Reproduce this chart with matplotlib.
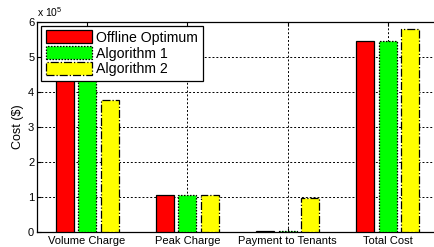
import numpy as np
import matplotlib
matplotlib.use("Agg")
import matplotlib.pyplot as plt
from matplotlib.patches import Patch

plt.rcParams['font.family'] = ['Liberation Sans', 'DejaVu Sans']
plt.rcParams['mathtext.fontset'] = 'custom'
plt.rcParams['mathtext.rm'] = 'Liberation Sans'

# data (cost in $)
categories = ["Volume Charge", "Peak Charge", "Payment to Tenants", "Total Cost"]
offline_opt = [4.36e5, 1.05e5, 0.04e5, 5.45e5]
algorithm_1 = [4.37e5, 1.05e5, 0.03e5, 5.45e5]
algorithm_2 = [3.78e5, 1.05e5, 0.96e5, 5.79e5]
series_names = ["Offline Optimum", "Algorithm 1", "Algorithm 2"]

colors = ["#ff0000", "#00ff00", "#ffff00"]
edge_styles = ["-", (0, (1.2, 1.2)), "-."]

fig = plt.figure(figsize=(4.34, 2.47), dpi=100)
ax = fig.add_axes([37 / 434, 15 / 247, 401 / 434, 210 / 247])

x = np.arange(1, len(categories) + 1)
offsets = [-0.225, 0.0, 0.225]
w = 0.18
for vals, off, c, ls in zip([offline_opt, algorithm_1, algorithm_2], offsets, colors, edge_styles):
    ax.bar(x + off, np.array(vals) / 1e5, width=w, color=c, edgecolor="black",
           linestyle=ls, linewidth=0.9, zorder=3)

ax.set_xlim(0.5, 4.5)
ax.set_ylim(0, 6)
ax.set_xticks(x)
ax.set_xticklabels(categories, fontsize=8)
ax.set_yticks(range(7))
ax.tick_params(axis="both", direction="in", length=3, labelsize=8, pad=2)
ax.tick_params(axis="x", pad=3)
ax.tick_params(axis="y", right=True)
ax.tick_params(axis="x", top=True)
ax.grid(True, linestyle=(0, (2, 2)), color="black", linewidth=0.7, zorder=0)
for s in ax.spines.values():
    s.set_linewidth(0.9)

ax.set_ylabel("Cost ($)", fontsize=9, labelpad=3)
ax.text(0, 1.015, r"x 10$^{5}$", transform=ax.transAxes, fontsize=7.5, ha="left", va="bottom")

handles = [Patch(facecolor=c, edgecolor="black", linestyle=ls, linewidth=0.9)
           for c, ls in zip(colors, edge_styles)]
leg = ax.legend(handles, series_names, loc="upper left", fontsize=10.2, fancybox=False,
                framealpha=1, edgecolor="black", borderaxespad=0.3,
                handlelength=3.3, handleheight=1.0, labelspacing=0.12,
                handletextpad=0.3, borderpad=0.3)
leg.get_frame().set_linewidth(0.9)
leg.set_zorder(5)

fig.savefig("out.png", dpi=100)
